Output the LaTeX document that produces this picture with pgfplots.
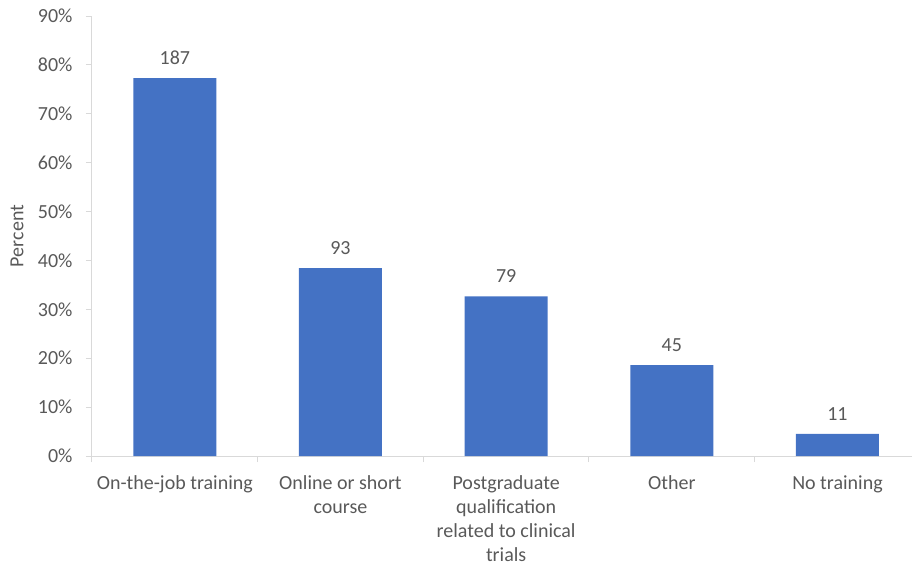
\documentclass[border=0pt]{standalone}
\usepackage{pgfplots}
\pgfplotsset{compat=1.18}
\usepackage{fontspec}
\setmainfont{Carlito}
\definecolor{barblue}{HTML}{4472C4}
\definecolor{txtgray}{HTML}{595959}
\definecolor{axgray}{HTML}{D9D9D9}

% x, percent of respondents, count
\pgfplotstableread{
x pct n
0 77.27 187
1 38.43 93
2 32.64 79
3 18.60 45
4 4.55 11
}\training

\begin{document}
\begin{tikzpicture}[x=1pt,y=1pt]
\useasboundingbox (-92,-109) rectangle (820,456);
\begin{axis}[
  at={(0,0)}, anchor=south west,
  scale only axis, width=820pt, height=440pt,
  xmin=-0.5, xmax=4.45, ymin=0, ymax=90,
  ybar, bar width=83pt,
  axis lines*=left,
  axis line style={axgray, line width=1pt},
  tick align=outside,
  xtick={0,1,2,3,4},
  xticklabels={On-the-job training, Online or short\\course, Postgraduate\\qualification\\related to clinical\\trials, Other, No training},
  major x tick style={draw=none},
  minor xtick={-0.5,0.5,1.5,2.5,3.5},
  minor x tick style={axgray, line width=1pt},
  minor tick length=6pt,
  ytick={0,10,...,90},
  major y tick style={axgray, line width=1pt},
  major tick length=6pt,
  yticklabel={\pgfmathprintnumber{\tick}\%},
  /pgf/number format/assume math mode=true,
  tick label style={font=\fontsize{20}{24}\selectfont, text=txtgray},
  xticklabel style={align=center, anchor=north, inner sep=0pt, yshift=-13.5pt},
  yticklabel style={anchor=east, xshift=-10pt},
  ylabel=Percent,
  ylabel style={at={(axis description cs:-0.0915,0.5)}, anchor=center, font=\fontsize{20}{24}\selectfont, text=txtgray},
  point meta=explicit symbolic,
  nodes near coords,
  nodes near coords style={font=\fontsize{20}{24}\selectfont, text=txtgray, anchor=south, yshift=10pt},
]
\addplot[fill=barblue, draw=none] table[x=x, y=pct, meta=n] {\training};
\end{axis}
\end{tikzpicture}
\end{document}
